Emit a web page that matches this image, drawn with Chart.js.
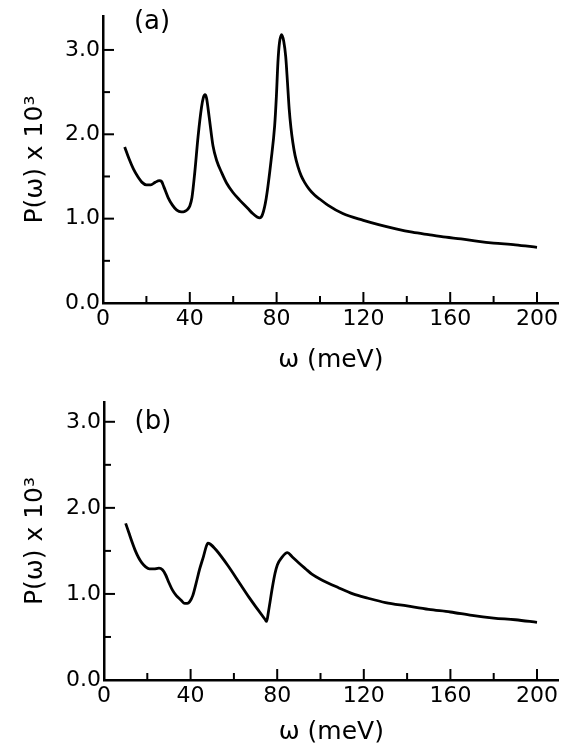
<!DOCTYPE html>
<html>
<head>
<meta charset="utf-8">
<script src="https://cdn.jsdelivr.net/npm/chart.js@4/dist/chart.umd.min.js"></script>
<style>
  html, body { margin: 0; padding: 0; background: #fff; }
  body { width: 561px; height: 747px; position: relative; overflow: hidden; }
  canvas { position: absolute; left: 0; display: block; }
</style>
</head>
<body>
<canvas id="chartA" width="561" height="375" style="top:0px"></canvas>
<canvas id="chartB" width="561" height="372" style="top:375px"></canvas>
<script>
// ---- Data ----
const omegaA = [10, 12, 14, 16, 18, 20, 22, 24, 26, 27, 28, 30, 32, 34, 36, 37, 38, 39, 40, 41, 42.3, 43.8, 45.4, 46.3, 47, 47.7, 48.9, 50.7, 52.5, 54.6, 57, 59.9, 63, 66.8, 69, 71, 72.2, 73.5, 75.2, 77.5, 79.1, 79.9, 80.6, 81.3, 82.3, 83.3, 84.2, 85, 85.8, 86.6, 87.5, 88.5, 89.8, 91.3, 92.9, 95, 97.5, 100, 103.6, 110.5, 120, 127, 135, 142.5, 150, 158, 165, 173, 180, 190, 200];
const powerA = [1.85, 1.71, 1.59, 1.50, 1.43, 1.40, 1.40, 1.43, 1.45, 1.44, 1.38, 1.25, 1.16, 1.10, 1.08, 1.08, 1.09, 1.11, 1.15, 1.25, 1.55, 1.97, 2.32, 2.44, 2.47, 2.43, 2.21, 1.86, 1.68, 1.55, 1.42, 1.31, 1.22, 1.12, 1.06, 1.02, 1.01, 1.05, 1.24, 1.70, 2.10, 2.45, 2.85, 3.08, 3.18, 3.10, 2.92, 2.62, 2.30, 2.08, 1.90, 1.75, 1.62, 1.51, 1.43, 1.35, 1.28, 1.23, 1.16, 1.06, 0.98, 0.93, 0.88, 0.84, 0.81, 0.78, 0.76, 0.73, 0.71, 0.69, 0.66];

const omegaB = [10, 11.5, 13, 14.5, 16, 17.5, 19, 21, 23, 25.4, 27, 28.5, 30, 31.5, 33.4, 35.5, 37.3, 38.5, 39.6, 41, 42.5, 44.2, 46, 47.2, 48, 49, 51.8, 57.2, 62.5, 67, 71, 74.5, 75.1, 76, 77.8, 79, 80.1, 82, 84.7, 87, 90, 93.2, 96, 100.8, 108.5, 115, 122, 130, 140, 150, 160, 170, 180, 190, 200];
const powerB = [1.82, 1.71, 1.60, 1.50, 1.42, 1.36, 1.32, 1.29, 1.29, 1.30, 1.28, 1.22, 1.13, 1.05, 0.98, 0.93, 0.89, 0.89, 0.91, 0.98, 1.12, 1.29, 1.44, 1.55, 1.59, 1.58, 1.51, 1.33, 1.13, 0.96, 0.82, 0.70, 0.68, 0.80, 1.08, 1.24, 1.34, 1.42, 1.48, 1.43, 1.36, 1.29, 1.23, 1.16, 1.07, 1.00, 0.95, 0.90, 0.86, 0.82, 0.79, 0.75, 0.72, 0.70, 0.67];

const xMajorTicks = [0, 40, 80, 120, 160, 200];
const xMinorTicks = [20, 60, 100, 140, 180];
const yMajorTicks = [0, 1, 2, 3];
const yMinorTicks = [0.5, 1.5, 2.5];

const xTitle = 'ω (meV)';
const yTitle = 'P(ω) x 10³';
const FONT = "'DejaVu Sans', sans-serif";

const inTicks = {
  id: 'inTicks',
  afterDraw(chart, args, opts) {
    const { ctx, chartArea } = chart;
    const xs = chart.scales.x, ys = chart.scales.y;
    ctx.save();
    ctx.strokeStyle = '#000';
    ctx.lineWidth = 2;
    const seg = (x1, y1, x2, y2) => { ctx.beginPath(); ctx.moveTo(x1, y1); ctx.lineTo(x2, y2); ctx.stroke(); };
    xMajorTicks.forEach(v => { const p = xs.getPixelForValue(v); if (v > 0) seg(p, chartArea.bottom, p, chartArea.bottom - 11); });
    xMinorTicks.forEach(v => { const p = xs.getPixelForValue(v); seg(p, chartArea.bottom, p, chartArea.bottom - 7); });
    yMajorTicks.forEach(v => { const p = ys.getPixelForValue(v); if (v > 0) seg(chartArea.left, p, chartArea.left + 11, p); });
    yMinorTicks.forEach(v => { const p = ys.getPixelForValue(v); seg(chartArea.left, p, chartArea.left + 7, p); });
    ctx.fillStyle = '#000';
    ctx.font = '26px ' + FONT;
    ctx.textAlign = 'center';
    ctx.textBaseline = 'middle';
    ctx.fillText(opts.label, chartArea.left + opts.dx, opts.y);
    ctx.restore();
  }
};

function makeChart(id, xs, ys, cfg) {
  const pts = xs.map((x, i) => ({ x: x, y: ys[i] }));
  return new Chart(document.getElementById(id), {
    type: 'line',
    data: { datasets: [{ data: pts, borderColor: '#000', borderWidth: 2.8, pointRadius: 0, fill: false, cubicInterpolationMode: 'monotone' }] },
    options: {
      responsive: false,
      animation: false,
      events: [],
      layout: { padding: { top: cfg.top, right: 0, left: 0, bottom: 0 } },
      plugins: { legend: { display: false }, tooltip: { enabled: false }, inTicks: { label: cfg.label, dx: 49, y: cfg.labelY } },
      scales: {
        x: {
          type: 'linear', min: 0, max: 210,
          afterBuildTicks: s => { s.ticks = xMajorTicks.map(v => ({ value: v })); },
          afterFit: s => { s.height = cfg.xh; },
          grid: { display: false, drawTicks: false },
          border: { display: true, color: '#000', width: 2.5 },
          ticks: { color: '#000', padding: 3, autoSkip: false, maxRotation: 0, font: { family: FONT, size: 22 } },
          title: { display: true, text: xTitle, color: '#000', padding: { top: 0, bottom: 0 }, font: { family: FONT, size: 25 } }
        },
        y: {
          type: 'linear', min: 0, max: cfg.ymax,
          afterBuildTicks: s => { s.ticks = yMajorTicks.map(v => ({ value: v })); },
          afterFit: s => { s.width = cfg.yw; },
          grid: { display: false, drawTicks: false },
          border: { display: true, color: '#000', width: 2.5 },
          ticks: { color: '#000', padding: 3, autoSkip: false, font: { family: FONT, size: 22 }, callback: v => Number(v).toFixed(1) },
          title: { display: true, text: yTitle, color: '#000', padding: { top: 20, bottom: 0 }, font: { family: FONT, size: 25 } }
        }
      }
    },
    plugins: [inTicks]
  });
}

makeChart('chartA', omegaA, powerA, { top: 11, ymax: 3.4, xh: 72, yw: 103, label: '(a)', labelY: 22 });
makeChart('chartB', omegaB, powerB, { top: 27, ymax: 3.23, xh: 67, yw: 104, label: '(b)', labelY: 47 });
</script>
</body>
</html>
